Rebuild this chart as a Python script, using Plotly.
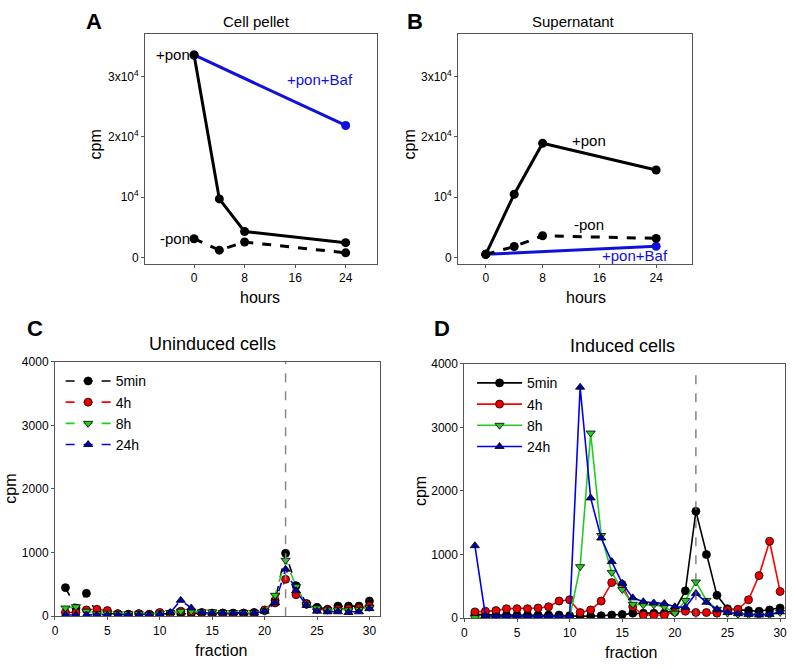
import plotly.graph_objects as go

W, H = 796, 669

# Panel A / B - time course (hours)
hours = [0, 4, 8, 24]
baf_hours = [0, 24]
pellet_pon = [33550, 9720, 4320, 2480]
pellet_nopon = [3130, 1240, 2590, 800]
pellet_baf = [33550, 21880]
super_pon = [550, 10500, 18930, 14500]
super_nopon = [550, 1840, 3620, 3190]
super_baf = [550, 1890]

# Panel C / D - fractions
fraction = list(range(1, 31))
unind_5min = [450, 130, 360, 40, 40, 40, 30, 40, 30, 40, 40, 40, 40, 50, 50,
               50, 50, 50, 60, 90, 250, 990, 480, 200, 140, 110, 160, 160, 160, 240]
unind_4h = [60, 60, 100, 110, 90, 40, 30, 40, 30, 60, 40, 80, 70, 60, 40,
             50, 40, 50, 50, 100, 210, 580, 340, 190, 110, 100, 110, 120, 130, 160]
unind_8h = [130, 150, 80, 40, 50, 40, 40, 40, 30, 50, 60, 80, 80, 70, 70,
             60, 60, 60, 60, 80, 330, 880, 470, 180, 130, 100, 100, 100, 110, 140]
unind_24h = [20, 20, 20, 20, 20, 20, 20, 20, 20, 30, 60, 250, 130, 60, 50,
              50, 50, 50, 50, 80, 210, 740, 400, 170, 80, 70, 70, 60, 70, 120]
ind_5min = [60, 50, 50, 50, 50, 50, 50, 50, 50, 40, 30, 30, 40, 50, 60,
            80, 80, 80, 80, 130, 430, 1680, 1000, 360, 150, 130, 120, 110, 130, 160]
ind_4h = [100, 110, 120, 150, 150, 150, 160, 180, 270, 290, 90, 130, 270, 560, 530,
          180, 50, 50, 50, 100, 110, 90, 90, 80, 130, 140, 290, 670, 1210, 420]
ind_8h = [10, 15, 15, 15, 15, 20, 20, 20, 20, 5, 810, 2910, 1300, 720, 450,
          220, 210, 210, 180, 80, 280, 570, 280, 140, 80, 60, 50, 50, 50, 90]
ind_24h = [1140, 40, 30, 30, 30, 30, 30, 30, 30, 30, 3630, 1890, 1260, 890, 550,
           320, 260, 240, 230, 180, 170, 390, 250, 140, 90, 70, 60, 50, 60, 100]

series_names = ["5min", "4h", "8h", "24h"]
line_cols = ["black", "#ff0000", "#22cc22", "#0000ee"]
fill_cols = ["black", "#ee0000", "#22cc22", "#0000aa"]
symbols = ["circle", "circle", "triangle-down", "triangle-up"]

FONT = "Liberation Sans, Arial, sans-serif"


def px(x, y):
    return x / W, 1 - y / H


fig = go.Figure()

# time course panels
for xa, ya, pon, nopon, baf in [("x", "y", pellet_pon, pellet_nopon, pellet_baf),
                                ("x2", "y2", super_pon, super_nopon, super_baf)]:
    fig.add_trace(go.Scatter(x=baf_hours, y=baf, xaxis=xa, yaxis=ya, mode="lines+markers",
                             line=dict(color="#1010dd", width=3),
                             marker=dict(color="#1010dd", size=9), showlegend=False))
    fig.add_trace(go.Scatter(x=hours, y=nopon, xaxis=xa, yaxis=ya, mode="lines+markers",
                             line=dict(color="black", width=3, dash="dash"),
                             marker=dict(color="black", size=9), showlegend=False))
    fig.add_trace(go.Scatter(x=hours, y=pon, xaxis=xa, yaxis=ya, mode="lines+markers",
                             line=dict(color="black", width=3),
                             marker=dict(color="black", size=9), showlegend=False))

# fraction panels
for xa, ya, data, dash, lg in [("x3", "y3", [unind_5min, unind_4h, unind_8h, unind_24h], "dash", "legend"),
                               ("x4", "y4", [ind_5min, ind_4h, ind_8h, ind_24h], "solid", "legend2")]:
    for name, vals, lc, fc, sym in zip(series_names, data, line_cols, fill_cols, symbols):
        fig.add_trace(go.Scatter(x=fraction, y=vals, xaxis=xa, yaxis=ya, mode="lines+markers",
                                 name=name, legend=lg,
                                 line=dict(color=lc, width=1.6, dash=dash),
                                 marker=dict(color=fc, symbol=sym, size=8,
                                             line=dict(color="black", width=0.8))))

axis_common = dict(showgrid=False, zeroline=False, showline=True, mirror=True,
                   linecolor="#555", linewidth=1, ticks="outside", ticklen=3,
                   tickcolor="#555", tickfont=dict(size=12, color="black", family=FONT))

ylab_tc = ["0", "10<sup>4</sup>", "2x10<sup>4</sup>", "3x10<sup>4</sup>"]
yval_tc = [0, 10000, 20000, 30000]

layout = dict(
    width=W, height=H, paper_bgcolor="white", plot_bgcolor="white",
    margin=dict(l=0, r=0, t=0, b=0), font=dict(family=FONT, color="black"),
    xaxis=dict(domain=[143 / W, 376 / W], range=[-7.75, 28.9], tickvals=[0, 8, 16, 24],
               anchor="y", **axis_common),
    yaxis=dict(domain=[1 - 262 / H, 1 - 28 / H], range=[-970, 36950], tickvals=yval_tc,
               ticktext=ylab_tc, anchor="x", **axis_common),
    xaxis2=dict(domain=[458 / W, 693 / W], range=[-3.9, 29], tickvals=[0, 8, 16, 24],
                anchor="y2", **axis_common),
    yaxis2=dict(domain=[1 - 262 / H, 1 - 28 / H], range=[-970, 36950], tickvals=yval_tc,
                ticktext=ylab_tc, anchor="x2", **axis_common),
    xaxis3=dict(domain=[52.3 / W, 379.3 / W], range=[0, 31], tickvals=[0, 5, 10, 15, 20, 25, 30],
                anchor="y3", **axis_common),
    yaxis3=dict(domain=[1 - 622.3 / H, 1 - 362.3 / H], range=[0, 4000],
                tickvals=[0, 1000, 2000, 3000, 4000], anchor="x3", **axis_common),
    xaxis4=dict(domain=[464.3 / W, 787.3 / W], range=[0, 30.5], tickvals=[0, 5, 10, 15, 20, 25, 30],
                anchor="y4", **axis_common),
    yaxis4=dict(domain=[1 - 624.3 / H, 1 - 364.3 / H], range=[0, 4000],
                tickvals=[0, 1000, 2000, 3000, 4000], anchor="x4", **axis_common),
    legend=dict(x=58 / W, y=1 - 366 / H, xanchor="left", yanchor="top", bgcolor="rgba(0,0,0,0)",
                font=dict(size=14), itemwidth=45, tracegroupgap=0),
    legend2=dict(x=472 / W, y=1 - 368 / H, xanchor="left", yanchor="top", bgcolor="rgba(0,0,0,0)",
                 font=dict(size=14), itemwidth=45, tracegroupgap=0),
)
fig.update_layout(**layout)

# vertical dashed marker at fraction 22
fig.add_shape(type="line", xref="x3", yref="y3 domain", x0=22, x1=22, y0=0, y1=1,
              line=dict(color="#888", width=1.5, dash="dash"))
fig.add_shape(type="line", xref="x4", yref="y4 domain", x0=22, x1=22, y0=0, y1=0.98,
              line=dict(color="#666", width=1.2, dash="dash"))

ann = []


def text(x, y, s, size, bold=False, angle=0, color="black", xanchor="center"):
    px_, py_ = px(x, y)
    ann.append(dict(x=px_, y=py_, xref="paper", yref="paper", text=f"<b>{s}</b>" if bold else s,
                    showarrow=False, textangle=angle, xanchor=xanchor, yanchor="middle",
                    font=dict(size=size, color=color, family=FONT)))


# panel letters and titles
text(92, 15, "A", 22, bold=True)
text(415, 15, "B", 22, bold=True)
text(32, 328, "C", 22, bold=True)
text(442, 328, "D", 22, bold=True)
text(255, 15, "Cell pellet", 15)
text(574, 15, "Supernatant", 15)
text(211, 344, "Uninduced cells", 18)
text(623, 346, "Induced cells", 18)

# axis titles
text(93, 140, "cpm", 16, angle=-90)
text(409, 140, "cpm", 16, angle=-90)
text(259, 297, "hours", 16)
text(587, 297, "hours", 16)
text(8, 492, "cpm", 16, angle=-90)
text(420, 494, "cpm", 16, angle=-90)
text(219, 657, "fraction", 16)
text(632, 659, "fraction", 16)

fig.update_layout(annotations=ann)

# series labels on the time-course panels
fig.add_annotation(x=0, y=pellet_pon[0], xref="x", yref="y", text="+pon", showarrow=False,
                   xanchor="right", xshift=-2, font=dict(size=15, color="black", family=FONT))
fig.add_annotation(x=0, y=pellet_nopon[0], xref="x", yref="y", text="-pon", showarrow=False,
                   xanchor="right", xshift=-2, font=dict(size=15, color="black", family=FONT))
fig.add_annotation(x=20, y=29500, xref="x", yref="y", text="+pon+Baf", showarrow=False,
                   font=dict(size=15, color="#1010dd", family=FONT))
fig.add_annotation(x=14.5, y=19400, xref="x2", yref="y2", text="+pon", showarrow=False,
                   font=dict(size=15, color="black", family=FONT))
fig.add_annotation(x=14.5, y=5500, xref="x2", yref="y2", text="-pon", showarrow=False,
                   font=dict(size=15, color="black", family=FONT))
fig.add_annotation(x=21, y=400, xref="x2", yref="y2", text="+pon+Baf", showarrow=False,
                   font=dict(size=15, color="#1010dd", family=FONT))

# page body has a default margin; remove it so the figure sits at the window origin
fig.write_html("out.html", config={"displayModeBar": False},
               post_script="document.body.style.margin='0px';")
